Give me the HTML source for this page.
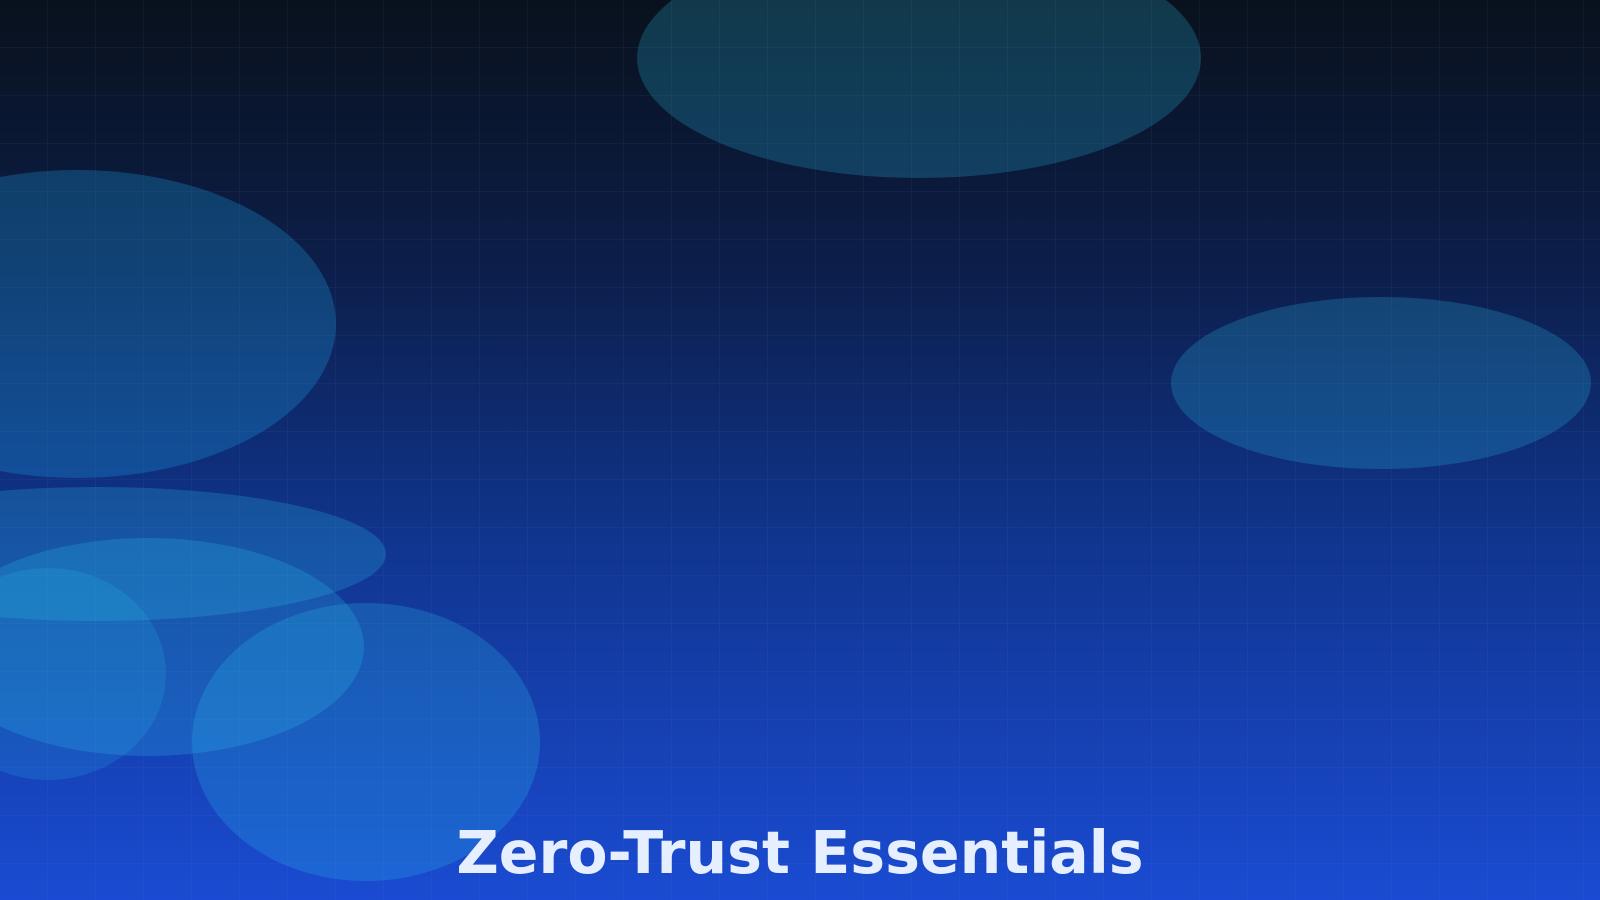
<!DOCTYPE html>
<html><head><meta charset="utf-8"><style>
html,body{margin:0;padding:0;width:1600px;height:900px;overflow:hidden}
svg{display:block}
</style></head><body>
<svg width="1600" height="900" viewBox="0 0 1600 900" xmlns="http://www.w3.org/2000/svg">
<defs>
<linearGradient id="bg" x1="0" y1="0" x2="0" y2="1">
<stop offset="0" stop-color="#09111c"/>
<stop offset="0.3" stop-color="#0c1e4a"/>
<stop offset="0.6" stop-color="#10358e"/>
<stop offset="1" stop-color="#1a4bd2"/>
</linearGradient>
<pattern id="grid" width="48" height="48" patternUnits="userSpaceOnUse">
<path d="M48 0V48M0 48H48" fill="none" stroke="rgba(120,160,220,0.12)" stroke-width="1"/>
</pattern>
</defs>
<rect width="1600" height="900" fill="url(#bg)"/>
<rect width="1600" height="900" fill="url(#grid)"/>
<g fill="rgba(45,200,240,0.22)">
<ellipse cx="919" cy="58" rx="282" ry="120"/>
<ellipse cx="77" cy="324" rx="259" ry="154" fill="rgba(30,160,230,0.28)"/>
<ellipse cx="1381" cy="383" rx="210" ry="86"/>
<ellipse cx="97" cy="554" rx="289" ry="67"/>
<ellipse cx="148" cy="647" rx="216" ry="109"/>
<ellipse cx="48" cy="674" rx="118" ry="106" fill="rgba(45,200,240,0.16)"/>
<ellipse cx="366" cy="742" rx="174" ry="139"/>
</g>
<text x="800" y="873" text-anchor="middle" font-family="'DejaVu Sans','Liberation Sans',sans-serif" font-weight="bold" font-size="58.5" fill="#e6efff">Zero-Trust Essentials</text>
</svg>
</body></html>
